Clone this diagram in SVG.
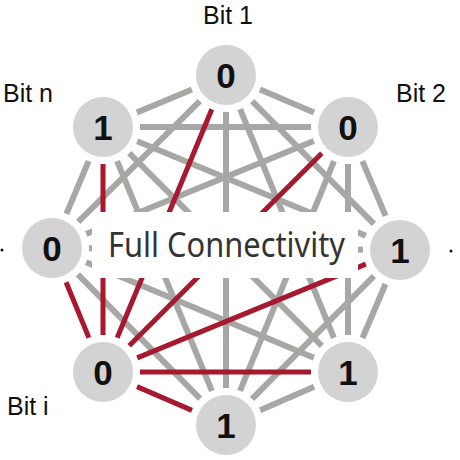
<svg xmlns="http://www.w3.org/2000/svg" width="460" height="460" viewBox="0 0 460 460">
<style>
.g{stroke:#a7a7a5;stroke-width:6;fill:none}
.r{stroke:#a6192e;stroke-width:5;fill:none}
.nc{fill:#d3d3d3}
.nt{font-family:"Liberation Sans",Arial,sans-serif;font-weight:bold;font-size:35px;fill:#111;text-anchor:middle}
.lb{font-family:"Liberation Sans",Arial,sans-serif;font-size:25px;fill:#111}
.ttl{font-family:"Noto Sans","Open Sans",sans-serif;font-size:35px;fill:#333}
</style>
<rect width="460" height="460" fill="#fff"/>
<g id="connectors">
<line class="g" x1="260.0" y1="89.5" x2="314.0" y2="112.5"/>
<line class="g" x1="252.1" y1="101.2" x2="373.9" y2="223.8"/>
<line class="g" x1="240.1" y1="109.2" x2="333.9" y2="337.8"/>
<line class="g" x1="226" y1="112" x2="226" y2="388"/>
<line class="g" x1="199.8" y1="101.1" x2="78.2" y2="221.9"/>
<line class="g" x1="191.9" y1="89.4" x2="136.9" y2="112.6"/>
<line class="g" x1="362.4" y1="161.1" x2="385.6" y2="215.9"/>
<line class="g" x1="348" y1="164" x2="348" y2="335"/>
<line class="g" x1="334.0" y1="161.2" x2="240.0" y2="390.8"/>
<line class="g" x1="313.8" y1="141.0" x2="86.2" y2="234.0"/>
<line class="g" x1="311" y1="127" x2="140" y2="127"/>
<line class="g" x1="385.5" y1="284.0" x2="362.5" y2="338.0"/>
<line class="g" x1="373.9" y1="276.2" x2="252.1" y2="398.8"/>
<line class="g" x1="363" y1="249.8" x2="89" y2="248.2"/>
<line class="g" x1="365.8" y1="235.8" x2="137.2" y2="141.2"/>
<line class="g" x1="314.1" y1="386.7" x2="260.1" y2="410.3"/>
<line class="g" x1="313.9" y1="357.7" x2="86.1" y2="262.3"/>
<line class="g" x1="321.8" y1="345.8" x2="129.2" y2="153.2"/>
<line class="g" x1="200.1" y1="398.6" x2="77.9" y2="274.4"/>
<line class="g" x1="211.9" y1="390.8" x2="117.1" y2="161.2"/>
<line class="g" x1="66.4" y1="213.9" x2="88.6" y2="161.1"/>
<line class="r" x1="211.8" y1="109.2" x2="117.2" y2="337.8"/>
<line class="r" x1="321.8" y1="153.2" x2="129.2" y2="345.8"/>
<line class="r" x1="365.8" y1="264.1" x2="137.2" y2="357.9"/>
<line class="r" x1="311" y1="372" x2="140" y2="372"/>
<line class="r" x1="192.0" y1="410.4" x2="137.0" y2="386.6"/>
<line class="r" x1="88.9" y1="337.8" x2="66.1" y2="282.2"/>
<line class="r" x1="103" y1="335" x2="103" y2="164"/>
</g>
<g id="title">
<rect x="92" y="212" width="266" height="66" fill="#fff"/>
<text class="ttl" x="108" y="257" textLength="237" lengthAdjust="spacingAndGlyphs">Full Connectivity</text>
</g>
<g id="bit1"><circle class="nc" cx="226" cy="75" r="30"/><text class="nt" x="226" y="87.5">0</text></g>
<g id="bit2"><circle class="nc" cx="348" cy="127" r="30"/><text class="nt" x="348" y="139.5">0</text></g>
<g id="bit3"><circle class="nc" cx="400" cy="250" r="30"/><text class="nt" x="400" y="262.5">1</text></g>
<g id="bit4"><circle class="nc" cx="348" cy="372" r="30"/><text class="nt" x="348" y="384.5">1</text></g>
<g id="bit5"><circle class="nc" cx="226" cy="425" r="30"/><text class="nt" x="226" y="437.5">1</text></g>
<g id="biti"><circle class="nc" cx="103" cy="372" r="30"/><text class="nt" x="103" y="384.5">0</text></g>
<g id="bit7"><circle class="nc" cx="52" cy="248" r="30"/><text class="nt" x="52" y="260.5">0</text></g>
<g id="bitn"><circle class="nc" cx="103" cy="127" r="30"/><text class="nt" x="103" y="139.5">1</text></g>
<g id="labels">
<text class="lb" x="203" y="24">Bit 1</text>
<text class="lb" x="396" y="102">Bit 2</text>
<text class="lb" x="3" y="102">Bit n</text>
<text class="lb" x="7" y="415">Bit i</text>
<circle cx="2" cy="250" r="1.5" fill="#111"/>
<circle cx="451" cy="251" r="1.5" fill="#111"/>
</g>
</svg>
